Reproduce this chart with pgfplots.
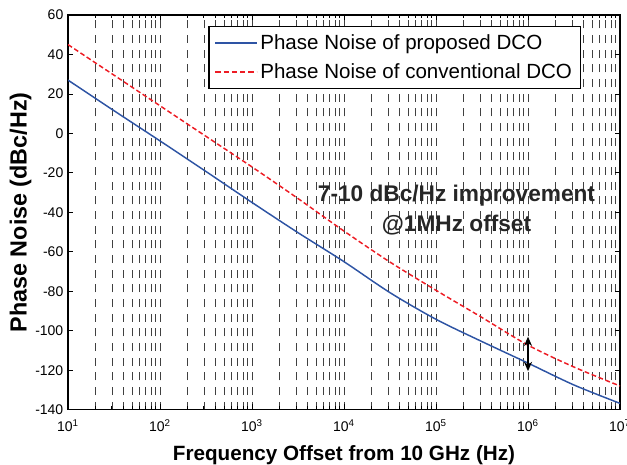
\documentclass[border=0pt]{standalone}
\usepackage{fontspec}
\setmainfont{Liberation Sans}
\usepackage{pgfplots}
\pgfplotsset{compat=1.18}
\usetikzlibrary{arrows.meta}

\definecolor{pnblue}{RGB}{46,84,164}
\definecolor{pnred}{RGB}{237,28,36}

\begin{document}
\begin{tikzpicture}
\begin{semilogxaxis}[
    width=414pt, height=296pt, scale only axis,
    xmin=10, xmax=1e7,
    ymin=-140, ymax=60,
    xtick={1e1,1e2,1e3,1e4,1e5,1e6,1e7},
    xticklabels={10\textsuperscript{1},10\textsuperscript{2},10\textsuperscript{3},10\textsuperscript{4},10\textsuperscript{5},10\textsuperscript{6},10\textsuperscript{7}},
    ytick={-140,-120,...,60},
    tick align=inside,
    major tick length=4pt, minor tick length=2.5pt,
    xmajorgrids=true, xminorgrids=true,
    grid style={black!75, line width=0.55pt, dash pattern=on 6pt off 5pt},
    axis line style={line width=0.9pt},
    tick style={black, line width=0.6pt},
    ticklabel style={font=\fontsize{10.5}{12}\selectfont},
    xticklabel style={yshift=-4pt},
    /pgf/number format/assume math mode=true,
    xlabel={Frequency Offset from 10 GHz (Hz)},
    ylabel={Phase Noise (dBc/Hz)},
    xlabel style={font=\bfseries\fontsize{15.5}{18}\selectfont, yshift=-3pt},
    ylabel style={font=\bfseries\fontsize{17.5}{20}\selectfont, yshift=-4pt},
    legend style={name=pnlegend, at={(axis description cs:0.255,0.972)}, anchor=north west,
        fill=white, font=\fontsize{15.4}{18}\selectfont,
        inner xsep=4pt, inner ysep=4pt, row sep=5pt},
    legend cell align=left,
]

% proposed DCO
\addplot[pnblue, line width=1.1pt, smooth, forget plot] coordinates {
    (1e1,27) (3.162e1,11.5) (1e2,-3.8) (3.162e2,-19.3) (1e3,-35)
    (3.162e3,-50.3) (1e4,-65) (3.162e4,-80.7) (1e5,-94.2)
    (3.162e5,-105.5) (1e6,-116.4) (3.162e6,-127.5) (1e7,-136.8)
};

% conventional DCO
\addplot[pnred, line width=1.1pt, dash pattern=on 3.6pt off 2pt, smooth, forget plot] coordinates {
    (1e1,45) (3.162e1,29.5) (1e2,14) (3.162e2,-1.5) (1e3,-17)
    (3.162e3,-33) (1e4,-49.5) (3.162e4,-65.2) (1e5,-79.5)
    (3.162e5,-93.3) (1e6,-107.3) (3.162e6,-118.4) (1e7,-128)
};

\addlegendimage{legend image code/.code={%
    \draw[pnblue, line width=1.2pt] (0pt,0pt) -- (31pt,0pt);}}
\addlegendentry{Phase Noise of proposed DCO}
\addlegendimage{legend image code/.code={%
    \draw[pnred, line width=1.5pt, dash pattern=on 4pt off 2.2pt] (0pt,0pt) -- (31pt,0pt);}}
\addlegendentry{Phase Noise of conventional DCO}

\draw[{Stealth[length=7pt,width=6pt]}-{Stealth[length=7pt,width=6pt]}, line width=1.3pt]
    (axis cs:1e6,-103) -- (axis cs:1e6,-120.5);

\node[font=\bfseries\fontsize{17}{22.5}\selectfont, align=center, text=black!85]
    at (axis cs:1.67e5,-39) {7-10 dBc/Hz improvement\\@1MHz offset};
\end{semilogxaxis}
% legend frame drawn separately so its colour does not reach the legend lines
\draw[line width=0.8pt] (pnlegend.south west) rectangle (pnlegend.north east);
\pgfresetboundingbox
\useasboundingbox ([shift={(-51pt,-41.25pt)}]current axis.south west)
    rectangle ([shift={(5.25pt,11.25pt)}]current axis.north east);
\end{tikzpicture}
\end{document}
